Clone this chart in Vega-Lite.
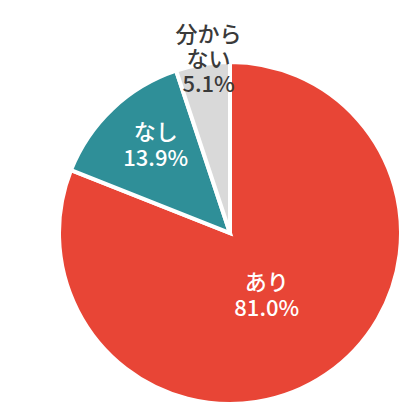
{
  "$schema": "https://vega.github.io/schema/vega-lite/v6.json",
  "width": 342,
  "height": 342,
  "padding": {"left": 59, "top": 62, "right": 10, "bottom": 2},
  "autosize": {"type": "none"},
  "background": "white",
  "view": {"stroke": null},
  "data": {"values": [
    {"cat": "あり", "label": "あり\n81.0%", "value": 81.0, "ord": 1},
    {"cat": "なし", "label": "なし\n13.9%", "value": 13.9, "ord": 2},
    {"cat": "分からない", "label": "分から\nない\n5.1%", "value": 5.1, "ord": 3}
  ]},
  "encoding": {
    "theta": {"field": "value", "type": "quantitative", "stack": true},
    "order": {"field": "ord", "type": "quantitative"}
  },
  "layer": [
    {
      "mark": {"type": "arc", "outerRadius": 171, "stroke": "white", "strokeWidth": 4},
      "encoding": {
        "color": {"field": "cat", "type": "nominal", "legend": null,
          "scale": {"domain": ["あり", "なし", "分からない"], "range": ["#E84536", "#2F8F98", "#D9D9D9"]}}
      }
    },
    {
      "mark": {"type": "text", "radius": 60, "dx": 3, "fontSize": 22, "fontWeight": 500, "lineBreak": "\n", "lineHeight": 26, "font": "Noto Sans CJK JP", "fill": "white", "baseline": "middle"},
      "encoding": {
        "text": {"condition": {"test": "datum.cat === 'あり'", "field": "label"}, "value": ""}
      }
    },
    {
      "mark": {"type": "text", "radius": 114, "dx": 4, "dy": -17, "fontSize": 22, "fontWeight": 500, "lineBreak": "\n", "lineHeight": 26, "font": "Noto Sans CJK JP", "fill": "white", "baseline": "middle"},
      "encoding": {
        "text": {"condition": {"test": "datum.cat === 'なし'", "field": "label"}, "value": ""}
      }
    },
    {
      "mark": {"type": "text", "radius": 172, "dx": 6, "dy": -28, "fontSize": 22, "fontWeight": 500, "lineBreak": "\n", "lineHeight": 25, "font": "Noto Sans CJK JP", "fill": "#3A3A3A", "baseline": "middle"},
      "encoding": {
        "text": {"condition": {"test": "datum.cat === '分からない'", "field": "label"}, "value": ""}
      }
    }
  ]
}
